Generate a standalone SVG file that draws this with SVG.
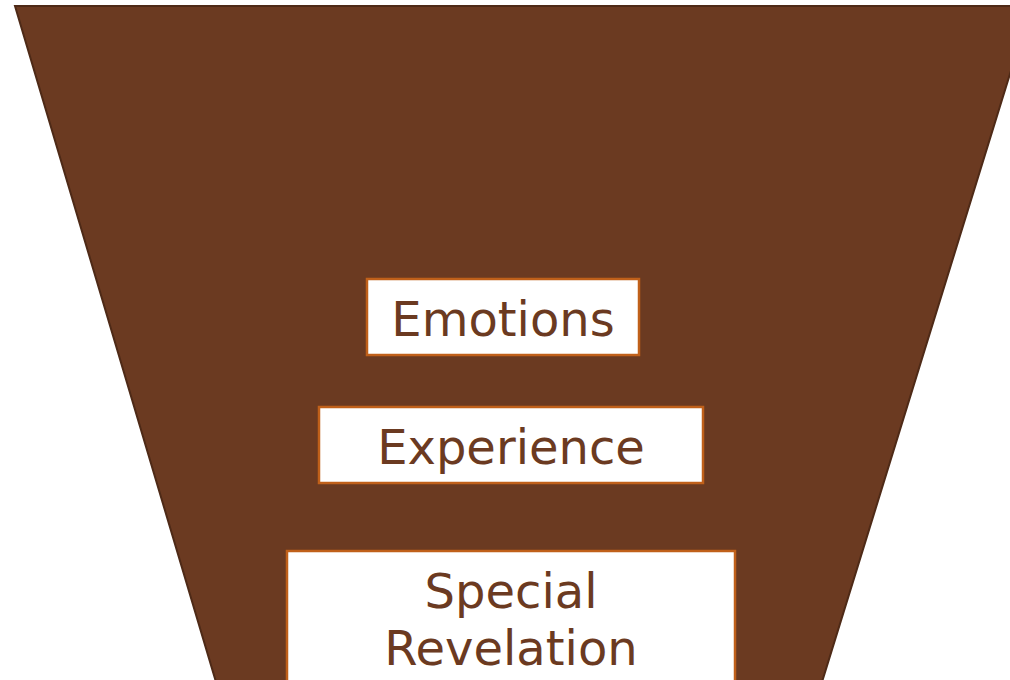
<svg xmlns="http://www.w3.org/2000/svg" width="1010" height="680" viewBox="0 0 1010 680">
<style>
.box{fill:#ffffff;stroke:#C0601A;stroke-width:2.5}
.lbl{font-family:"DejaVu Sans",sans-serif;font-size:48px;fill:#6B3A21;text-anchor:middle}
</style>
<rect width="1010" height="680" fill="#ffffff"/>
<g id="funnel">
<polygon points="15,6 1031,6 822,682 216,682" fill="#6B3A21" stroke="#4E2A17" stroke-width="2"/>
</g>
<g id="connectors"></g>
<g id="emotions">
<rect class="box" x="367" y="279" width="272" height="76"/>
<text class="lbl" x="503" y="336">Emotions</text>
</g>
<g id="experience">
<rect class="box" x="319" y="407" width="384" height="76"/>
<text class="lbl" x="511" y="464">Experience</text>
</g>
<g id="special-revelation">
<rect class="box" x="287" y="551" width="448" height="140"/>
<text class="lbl" x="511" y="608">Special</text>
<text class="lbl" x="511" y="665">Revelation</text>
</g>
</svg>
